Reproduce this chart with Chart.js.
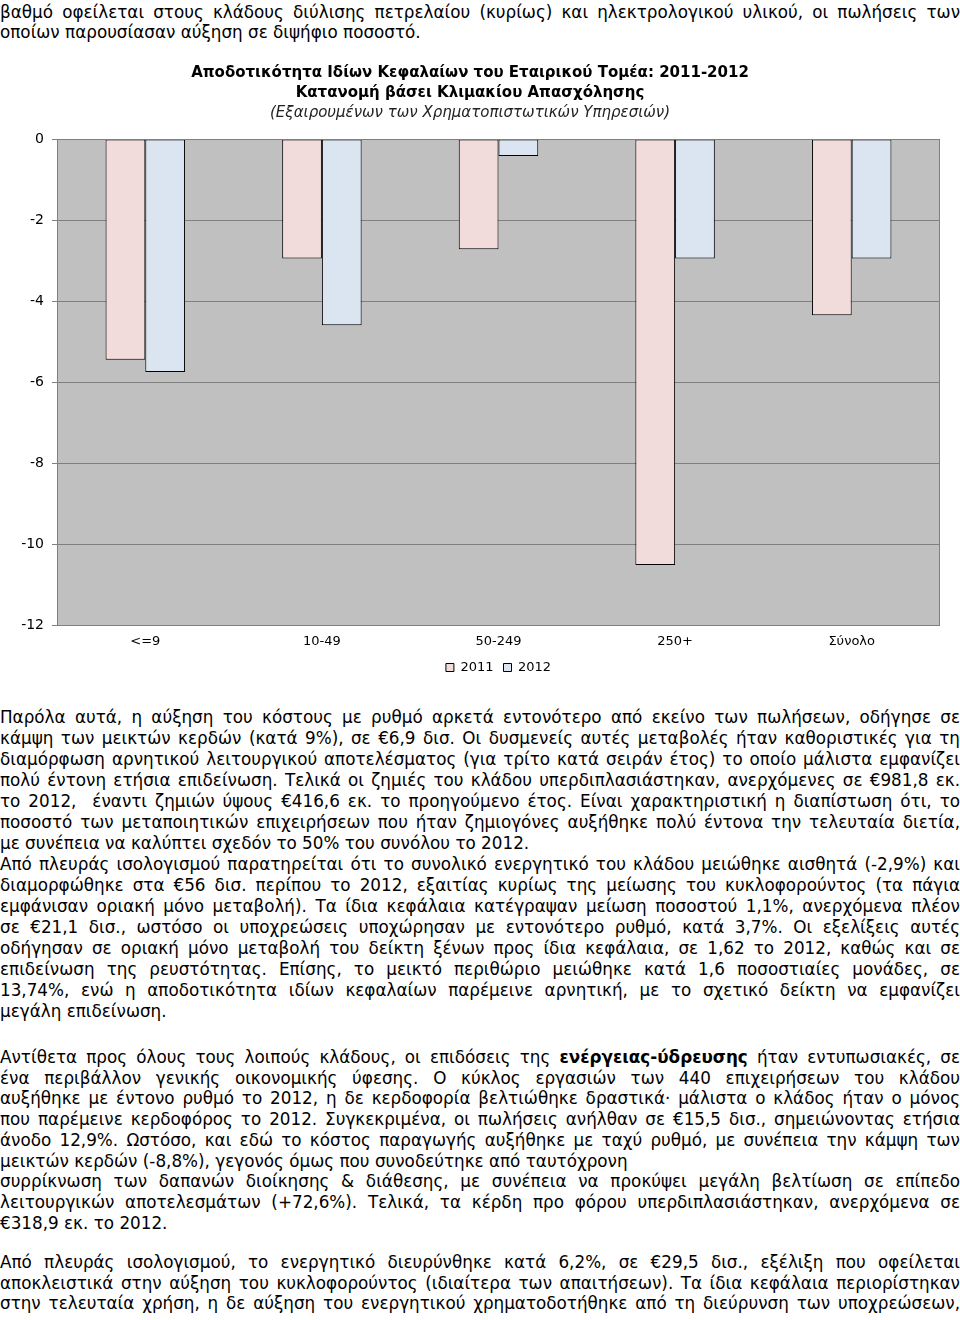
<!DOCTYPE html>
<html lang="el">
<head>
<meta charset="utf-8">
<title>Αποδοτικότητα Ιδίων Κεφαλαίων</title>
<script src="https://cdn.jsdelivr.net/npm/chart.js@4/dist/chart.umd.min.js"></script>
<style>
    body {
        margin: 0;
        background: #fff;
    }
    .page {
        position: relative;
        width: 960px;
        height: 1320px;
        overflow: hidden;
        font-family: 'DejaVu Sans', Verdana, sans-serif;
        font-size: 16.8px;
        color: #000;
    }
    .block {
        position: absolute;
        left: 0;
        width: 960px;
        line-height: 20.7px;
    }
    .j {
        text-align: justify;
        text-align-last: justify;
        white-space: nowrap;
    }
    .l {
        text-align: left;
        white-space: nowrap;
    }
    .chart-box {
        position: absolute;
        left: 0;
        top: 50px;
        width: 960px;
        height: 634px;
    }
</style>
</head>
<body>
<div class="page">
    <div class="block" style="top: 2px; line-height: 20px;">
        <div class="j">βαθμό οφείλεται στους κλάδους διύλισης πετρελαίου (κυρίως) και ηλεκτρολογικού υλικού, οι πωλήσεις των</div>
        <div class="l">οποίων παρουσίασαν αύξηση σε διψήφιο ποσοστό.</div>
    </div>

    <div class="chart-box"><canvas id="roeChart"></canvas></div>

    <div class="block" style="top: 706.5px; line-height: 21px;">
        <div class="j">Παρόλα αυτά, η αύξηση του κόστους με ρυθμό αρκετά εντονότερο από εκείνο των πωλήσεων, οδήγησε σε</div>
        <div class="j">κάμψη των μεικτών κερδών (κατά 9%), σε €6,9 δισ. Οι δυσμενείς αυτές μεταβολές ήταν καθοριστικές για τη</div>
        <div class="j">διαμόρφωση αρνητικού λειτουργικού αποτελέσματος (για τρίτο κατά σειράν έτος) το οποίο μάλιστα εμφανίζει</div>
        <div class="j">πολύ έντονη ετήσια επιδείνωση. Τελικά οι ζημιές του κλάδου υπερδιπλασιάστηκαν, ανερχόμενες σε €981,8 εκ.</div>
        <div class="j">το 2012, &nbsp;έναντι ζημιών ύψους €416,6 εκ. το προηγούμενο έτος. Είναι χαρακτηριστική η διαπίστωση ότι, το</div>
        <div class="j">ποσοστό των μεταποιητικών επιχειρήσεων που ήταν ζημιογόνες αυξήθηκε πολύ έντονα την τελευταία διετία,</div>
        <div class="l">με συνέπεια να καλύπτει σχεδόν το 50% του συνόλου το 2012.</div>
        <div class="j">Από πλευράς ισολογισμού παρατηρείται ότι το συνολικό ενεργητικό του κλάδου μειώθηκε αισθητά (-2,9%) και</div>
        <div class="j">διαμορφώθηκε στα €56 δισ. περίπου το 2012, εξαιτίας κυρίως της μείωσης του κυκλοφορούντος (τα πάγια</div>
        <div class="j">εμφάνισαν οριακή μόνο μεταβολή). Τα ίδια κεφάλαια κατέγραψαν μείωση ποσοστού 1,1%, ανερχόμενα πλέον</div>
        <div class="j">σε €21,1 δισ., ωστόσο οι υποχρεώσεις υποχώρησαν με εντονότερο ρυθμό, κατά 3,7%. Οι εξελίξεις αυτές</div>
        <div class="j">οδήγησαν σε οριακή μόνο μεταβολή του δείκτη ξένων προς ίδια κεφάλαια, σε 1,62 το 2012, καθώς και σε</div>
        <div class="j">επιδείνωση της ρευστότητας. Επίσης, το μεικτό περιθώριο μειώθηκε κατά 1,6 ποσοστιαίες μονάδες, σε</div>
        <div class="j">13,74%, ενώ η αποδοτικότητα ιδίων κεφαλαίων παρέμεινε αρνητική, με το σχετικό δείκτη να εμφανίζει</div>
        <div class="l">μεγάλη επιδείνωση.</div>
    </div>

    <div class="block" style="top: 1047px;">
        <div class="j">Αντίθετα προς όλους τους λοιπούς κλάδους, οι επιδόσεις της <b>ενέργειας-ύδρευσης</b> ήταν εντυπωσιακές, σε</div>
        <div class="j">ένα περιβάλλον γενικής οικονομικής ύφεσης. Ο κύκλος εργασιών των 440 επιχειρήσεων του κλάδου</div>
        <div class="j">αυξήθηκε με έντονο ρυθμό το 2012, η δε κερδοφορία βελτιώθηκε δραστικά· μάλιστα ο κλάδος ήταν ο μόνος</div>
        <div class="j">που παρέμεινε κερδοφόρος το 2012. Συγκεκριμένα, οι πωλήσεις ανήλθαν σε €15,5 δισ., σημειώνοντας ετήσια</div>
        <div class="j">άνοδο 12,9%. Ωστόσο, και εδώ το κόστος παραγωγής αυξήθηκε με ταχύ ρυθμό, με συνέπεια την κάμψη των</div>
        <div class="l">μεικτών κερδών (-8,8%), γεγονός όμως που συνοδεύτηκε από ταυτόχρονη</div>
        <div class="j">συρρίκνωση των δαπανών διοίκησης &amp; διάθεσης, με συνέπεια να προκύψει μεγάλη βελτίωση σε επίπεδο</div>
        <div class="j">λειτουργικών αποτελεσμάτων (+72,6%). Τελικά, τα κέρδη προ φόρου υπερδιπλασιάστηκαν, ανερχόμενα σε</div>
        <div class="l">€318,9 εκ. το 2012.</div>
    </div>

    <div class="block" style="top: 1252px;">
        <div class="j">Από πλευράς ισολογισμού, το ενεργητικό διευρύνθηκε κατά 6,2%, σε €29,5 δισ., εξέλιξη που οφείλεται</div>
        <div class="j">αποκλειστικά στην αύξηση του κυκλοφορούντος (ιδιαίτερα των απαιτήσεων). Τα ίδια κεφάλαια περιορίστηκαν</div>
        <div class="j">στην τελευταία χρήση, η δε αύξηση του ενεργητικού χρηματοδοτήθηκε από τη διεύρυνση των υποχρεώσεων,</div>
    </div>
</div>

<script>
// Chart data
const categories = ['<=9', '10-49', '50-249', '250+', 'Σύνολο'];
const seriesLabels = ['2011', '2012'];
const roe2011 = [-5.45, -2.95, -2.72, -10.52, -4.35];
const roe2012 = [-5.75, -4.6, -0.42, -2.95, -2.95];
const yMin = -12;
const yMax = 0;
const yStep = 2;

const titleLines = [
    'Αποδοτικότητα Ιδίων Κεφαλαίων του Εταιρικού Τομέα: 2011-2012',
    'Κατανομή βάσει Κλιμακίου Απασχόλησης'
];
const subtitleText = '(Εξαιρουμένων των Χρηματοπιστωτικών Υπηρεσιών)';

Chart.defaults.font.family = "'DejaVu Sans', Verdana, sans-serif";
Chart.defaults.color = '#000';

// grey plot background + frame
const plotFrame = {
    id: 'plotFrame',
    beforeDraw(chart) {
        const { ctx, chartArea } = chart;
        ctx.save();
        ctx.fillStyle = '#c0c0c0';
        ctx.fillRect(chartArea.left, chartArea.top, chartArea.width, chartArea.height);
        ctx.restore();
    },
    afterDatasetsDraw(chart) {
        const { ctx, chartArea } = chart;
        ctx.save();
        ctx.strokeStyle = '#808080';
        ctx.lineWidth = 1;
        ctx.strokeRect(chartArea.left + 0.5, chartArea.top + 0.5, chartArea.width - 1, chartArea.height);
        ctx.restore();
    }
};

const ctx = document.getElementById('roeChart').getContext('2d');
new Chart(ctx, {
    type: 'bar',
    data: {
        labels: categories,
        datasets: [{
            label: seriesLabels[0],
            data: roe2011,
            backgroundColor: '#f2dcdb',
            borderColor: '#000',
            borderWidth: 1,
            borderSkipped: false
        }, {
            label: seriesLabels[1],
            data: roe2012,
            backgroundColor: '#dbe5f1',
            borderColor: '#000',
            borderWidth: 1,
            borderSkipped: false
        }]
    },
    options: {
        responsive: true,
        maintainAspectRatio: false,
        animation: false,
        datasets: {
            bar: {
                barPercentage: 1,
                categoryPercentage: 0.45
            }
        },
        layout: {
            padding: { left: 0, right: 20, top: 0, bottom: 0 }
        },
        plugins: {
            title: {
                display: true,
                text: titleLines,
                font: { size: 15, weight: 'bold', lineHeight: '20px' },
                padding: { top: 13, bottom: 0 }
            },
            subtitle: {
                display: true,
                text: subtitleText,
                color: '#222',
                font: { size: 15, style: 'italic', lineHeight: '20px' },
                padding: { top: 0, bottom: 16 }
            },
            legend: {
                position: 'bottom',
                fullSize: false,
                labels: {
                    boxWidth: 8,
                    boxHeight: 8,
                    padding: 10,
                    font: { size: 13 }
                }
            },
            tooltip: { enabled: false }
        },
        scales: {
            x: {
                grid: { display: false, drawTicks: false },
                border: { display: false },
                afterFit(scale) {
                    scale.height = 26;
                },
                ticks: { padding: 9, font: { size: 13 } }
            },
            y: {
                min: yMin,
                max: yMax,
                afterFit(scale) {
                    scale.width = 57;
                },
                ticks: {
                    stepSize: yStep,
                    padding: 8,
                    font: { size: 14 }
                },
                grid: {
                    color: '#808080',
                    tickColor: '#808080',
                    tickLength: 5
                },
                border: { display: true, color: '#808080' }
            }
        }
    },
    plugins: [plotFrame]
});
</script>
</body>
</html>
